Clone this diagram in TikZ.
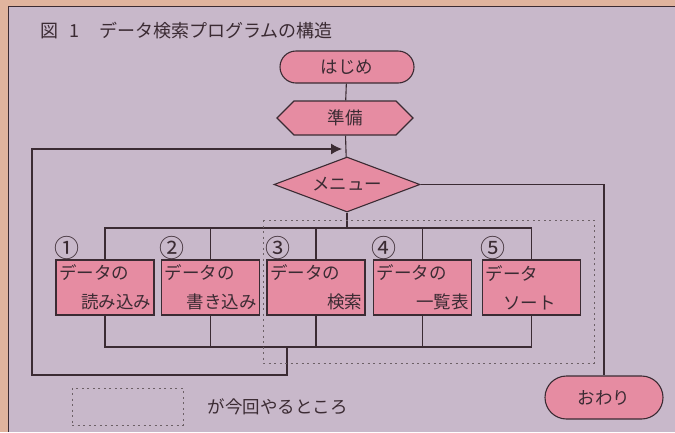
\documentclass[tikz,border=0pt]{standalone}
\usepackage{fontspec}
\newfontfamily\jpfont{Noto Sans CJK JP}
\usetikzlibrary{arrows.meta,positioning,shapes.geometric,shapes.misc,shapes.symbols}
\definecolor{edgetan}{HTML}{E0B49E}
\definecolor{panel}{HTML}{C8B8CA}
\definecolor{pinkfill}{HTML}{E68CA2}
\definecolor{ink}{HTML}{3B2B33}
\newcommand{\boxlines}[2]{\makebox[92pt][l]{#1}\\\makebox[92pt][r]{#2}}

\begin{document}
\begin{tikzpicture}[x=1pt, y=-1pt, color=ink, line width=1.1pt,
  >={Latex[length=11pt,width=11pt]}, font=\jpfont\fontsize{17.5}{29}\selectfont,
  term/.style={rounded rectangle, draw, fill=pinkfill, minimum width=134pt, minimum height=32pt, inner sep=0pt},
  prep/.style={signal, signal to=west and east, signal pointer angle=90, draw, fill=pinkfill, minimum width=136pt, minimum height=34pt, inner sep=0pt},
  choice/.style={diamond, draw, fill=pinkfill, minimum width=146pt, minimum height=55pt, aspect=2.6, inner sep=0pt},
  task/.style={rectangle, draw, fill=pinkfill, minimum width=98pt, minimum height=55pt, inner sep=0pt, align=center},
  tag/.style={anchor=south west, inner sep=0pt, xshift=-2pt, yshift=-1pt, font=\jpfont\fontsize{25}{25}\selectfont},
  area/.style={draw=ink!75, line width=0.7pt, dash pattern=on 2pt off 3.5pt}]
\useasboundingbox (0,0) rectangle (675,432);
\fill[edgetan] (0,0) rectangle (675,432);
\fill[panel] (8,6) rectangle (675,432);
\draw[line width=0.8pt] (675,6) -- (8,6) -- (8,432);

\node[anchor=west, inner sep=0pt, font=\jpfont\fontsize{18}{18}\selectfont] (title) at (40,31) {図\hspace{0.6em}1\hspace{1.1em}データ検索プログラムの構造};

\node[term] (start) at (347,67) {はじめ};
\node[prep] (init) at (345,118) {準備};
\node[choice] (menu) at (347,184.5) {メニュー};

\node[task] (b1) at (105,287.5) {\boxlines{データの}{読み込み}};
\node[task] (b2) at (210.5,287.5) {\boxlines{データの}{書き込み}};
\node[task] (b3) at (316,287.5) {\boxlines{データの}{検索}};
\node[task] (b4) at (422.5,287.5) {\boxlines{データの}{一覧表}};
\node[task] (b5) at (531.5,287.5) {\boxlines{データ}{\hspace{1em}ソート\hfill}};
\foreach \bx/\num in {b1/①,b2/②,b3/③,b4/④,b5/⑤}
  \node[tag] (\bx n) at (\bx.north west) {\num};

\node[term, minimum width=118pt, minimum height=43pt] (stop) at (604,397.5) {おわり};

\coordinate (fork) at (menu.south |- 0,228);
\coordinate (join) at (287,347);
\coordinate (back) at (32,375);
\coordinate (loopin) at (init.south |- 0,149);

\draw (start) -- (init);
\draw (init) -- (menu);
\draw (menu.south) -- (fork);
\foreach \bx in {b1,b2,b3,b4,b5} {
  \draw (\bx.north) |- (fork);
  \draw (\bx.south) |- (join);
}
\draw[->, shorten >=3pt] (join) |- (back) |- (loopin);
\draw (menu.east) -| (stop.north);

% part done this time
\draw[area] (263,220) rectangle (594,363);
\node[area, minimum width=111pt, minimum height=37pt] (key) at (127.5,406.5) {};
\node[right=24pt of key, inner sep=0pt] (keytext) {が今回やるところ};
\end{tikzpicture}
\end{document}
